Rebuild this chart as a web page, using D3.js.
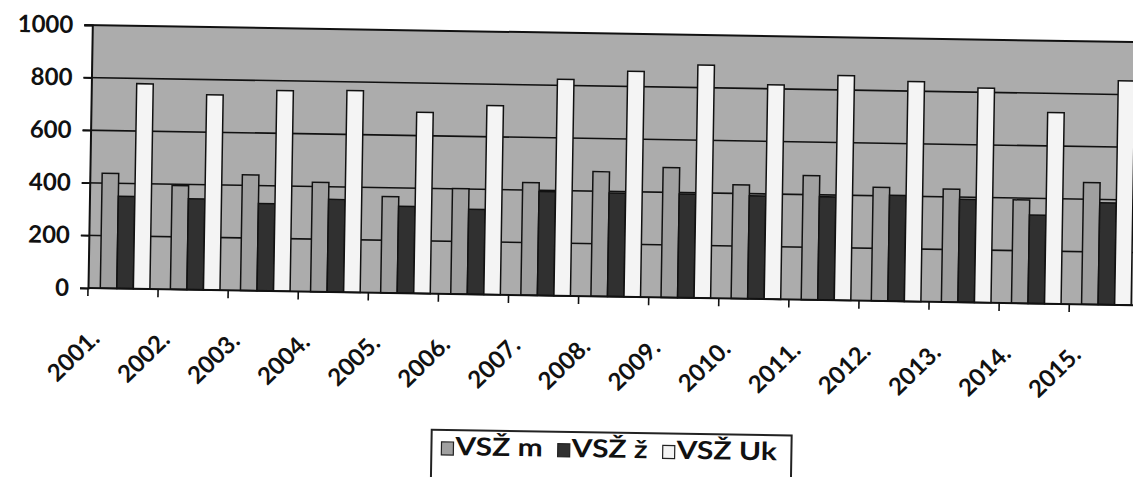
<!DOCTYPE html>
<html>
<head>
<meta charset="utf-8">
<script src="https://cdn.jsdelivr.net/npm/d3@7"></script>
<style>
  html, body { margin: 0; padding: 0; background: #ffffff; }
  svg { display: block; }
</style>
</head>
<body>
<script>
// VSŽ bar chart, 2001.-2015.

const years = ["2001.", "2002.", "2003.", "2004.", "2005.", "2006.", "2007.", "2008.",
               "2009.", "2010.", "2011.", "2012.", "2013.", "2014.", "2015."];
const vszM  = [437, 395, 440, 416, 366, 401, 428, 474, 494, 433, 472, 432, 430, 393, 463];
const vszZ  = [351, 346, 332, 352, 330, 323, 395, 394, 394, 392, 393, 403, 392, 336, 387];
const vszUk = [780, 742, 763, 767, 689, 719, 823, 858, 886, 815, 855, 836, 816, 727, 852];
const seriesNames = ["VSŽ m", "VSŽ ž", "VSŽ Uk"];
const yTicks = [0, 200, 400, 600, 800, 1000];

const colors = ["#a0a0a0", "#303030", "#f4f4f4"];

const width = 1133, height = 477;
const plotLeft = 88, plotTop = 25, plotBottom = 288;   // plot area (before the scan tilt)
const step = 70.1;

const svg = d3.select("body").append("svg")
    .attr("width", width)
    .attr("height", height)
    .style("font-family", "Lato, 'Open Sans', sans-serif");

// the scanned page is tilted a little, turn the whole drawing
const chart = svg.append("g")
    .attr("transform", "rotate(0.94," + plotLeft + "," + plotBottom + ")");

const x = d3.scaleBand()
    .domain(years)
    .range([plotLeft, plotLeft + step * years.length])
    .padding(0);

const xs = d3.scaleBand()
    .domain(seriesNames)
    .range([0, x.bandwidth()])
    .paddingInner(0)
    .paddingOuter(0.62)
    .align(0.6);

const y = d3.scaleLinear()
    .domain([0, 1000])
    .range([plotBottom, plotTop]);

// plot background
chart.append("rect")
    .attr("x", plotLeft)
    .attr("y", y(1000))
    .attr("width", x.range()[1] - plotLeft)
    .attr("height", y(0) - y(1000))
    .attr("fill", "#acacac");

// gridlines
chart.append("g")
    .selectAll("line")
    .data(yTicks.filter(d => d > 0))
    .join("line")
      .attr("x1", plotLeft - 8)
      .attr("x2", x.range()[1])
      .attr("y1", d => y(d))
      .attr("y2", d => y(d))
      .attr("stroke", "#111")
      .attr("stroke-width", d => d === 1000 ? 2 : 1.6);

// bars
const table = years.map((yr, i) => ({
  year: yr,
  values: [vszM[i], vszZ[i], vszUk[i]].map((v, k) => ({ name: seriesNames[k], k: k, value: v }))
}));

const groups = chart.append("g")
    .selectAll("g")
    .data(table)
    .join("g")
      .attr("transform", d => "translate(" + x(d.year) + ",0)");

groups.selectAll("rect")
    .data(d => d.values)
    .join("rect")
      .attr("x", d => xs(d.name))
      .attr("y", d => y(d.value))
      .attr("width", xs.bandwidth())
      .attr("height", d => y(0) - y(d.value))
      .attr("fill", d => colors[d.k])
      .attr("stroke", "#111")
      .attr("stroke-width", 1.5);

// y axis
const yAxis = chart.append("g")
    .attr("transform", "translate(" + plotLeft + ",0)")
    .call(d3.axisLeft(y).tickValues(yTicks).tickSize(8).tickPadding(11).tickFormat(d3.format("d")));
yAxis.select(".domain").attr("stroke", "#111").attr("stroke-width", 2);
yAxis.selectAll(".tick line").attr("stroke", "#111").attr("stroke-width", 1.6);
yAxis.selectAll(".tick text")
    .attr("fill", "#111")
    .style("font-family", "Lato, sans-serif")
    .style("font-size", "24px")
    .style("font-weight", "700");

// x axis: ticks on the category boundaries
const xAxis = chart.append("g")
    .attr("transform", "translate(0," + plotBottom + ")");
xAxis.append("line")
    .attr("x1", plotLeft)
    .attr("x2", x.range()[1])
    .attr("stroke", "#111")
    .attr("stroke-width", 2);
xAxis.selectAll("line.tk")
    .data(years)
    .join("line")
      .attr("class", "tk")
      .attr("x1", d => x(d))
      .attr("x2", d => x(d))
      .attr("y1", 0)
      .attr("y2", 8)
      .attr("stroke", "#111")
      .attr("stroke-width", 1.6);
xAxis.selectAll("text")
    .data(years)
    .join("text")
      .attr("transform", d => "translate(" + (x(d) + x.bandwidth() / 2 - 21) + ",52) rotate(-45)")
      .attr("text-anchor", "end")
      .attr("fill", "#111")
      .style("font-size", "24px")
      .style("font-weight", "700")
      .text(d => d);

// legend
const legend = chart.append("g");
const legendLeft = 434, legendTop = 424, stretch = 1.2;
legend.append("rect")
    .attr("x", legendLeft)
    .attr("y", legendTop)
    .attr("width", 360)
    .attr("height", 70)
    .attr("fill", "#fff")
    .attr("stroke", "#222")
    .attr("stroke-width", 2);

let cursor = legendLeft + 10;
seriesNames.forEach((name, k) => {
  legend.append("rect")
      .attr("x", cursor)
      .attr("y", legendTop + 12)
      .attr("width", 12)
      .attr("height", 13)
      .attr("fill", colors[k])
      .attr("stroke", "#222")
      .attr("stroke-width", 1.2);
  const t = legend.append("text")
      .attr("transform", "translate(" + (cursor + 14) + "," + (legendTop + 25) + ") scale(" + stretch + ",1)")
      .attr("fill", "#111")
      .style("font-size", "25px")
      .style("font-weight", "700")
      .text(name);
  cursor += 14 + t.node().getComputedTextLength() * stretch + 15;
});
</script>
</body>
</html>
